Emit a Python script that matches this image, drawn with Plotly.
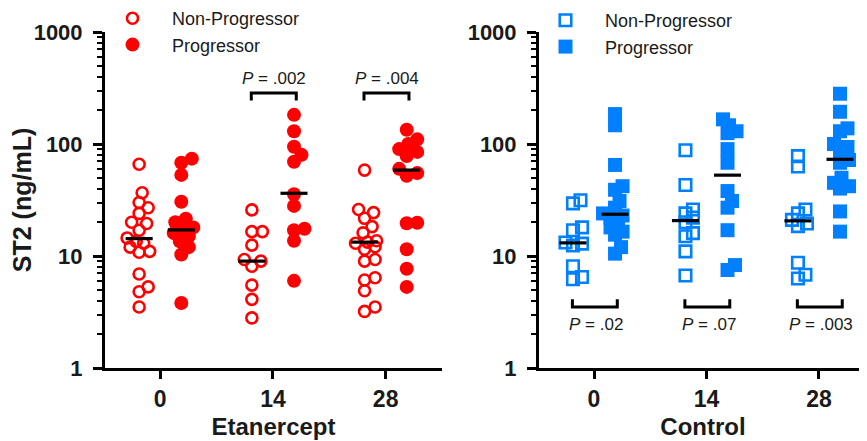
import math
import plotly.graph_objects as go

# ---------------- data (ng/mL) ----------------
days = ["0", "14", "28"]

eta_np_d0 = [66, 36.7, 30, 27, 24, 20, 19.5, 17, 14.5, 13.5, 13, 12, 11, 10.8, 6.9, 5.3, 4.8, 3.5]
eta_np_d14 = [25.8, 16.5, 16.5, 12.5, 9.3, 9.0, 8.1, 5.5, 4.1, 2.8]
eta_np_d28 = [58.5, 26, 24.4, 21.7, 18.3, 16.1, 13.7, 13.3, 13.0, 12.1, 11.5, 9.3, 9.0, 6.4, 6.1, 4.9, 3.5, 3.2]

eta_p_d0 = [74, 68, 53, 30.5, 21.5, 20, 18, 17, 16, 15, 13.5, 12, 10.3, 3.8]
eta_p_d14 = [182, 130, 94.5, 80, 69.5, 35.6, 28, 17.5, 17, 13.7, 6.0]
eta_p_d28 = [134, 110, 100, 90, 85, 78, 60, 55, 52, 19.8, 19.6, 11.5, 7.7, 5.3]

ctl_np_d0 = [31.5, 29.5, 18, 17, 13.2, 12.9, 12.4, 8.1, 6.5, 6.2]
ctl_np_d14 = [88, 43, 26, 24, 22, 20, 16, 15, 11, 6.7]
ctl_np_d28 = [78, 63, 26, 24, 21, 19.5, 18.5, 8.7, 6.8, 6.3]

ctl_p_d0 = [185, 147, 65, 42, 39, 31, 27, 24, 23, 22, 20, 18, 16.5, 15.5, 12, 10.5]
ctl_p_d14 = [166, 147, 130, 125, 90, 68, 38, 31, 27, 17, 8.3, 7.5]
ctl_p_d28 = [281, 194, 138, 130, 100, 94, 88, 72, 68, 50, 45, 42, 40, 25, 16.5]

eta_np_med = [14.3, 9.0, 13.3]
eta_p_med = [17.1, 36.3, 58.5]
ctl_np_med = [13.1, 20.7, 20.6]
ctl_p_med = [23.6, 52.7, 73.0]

eta_pvals = [None, ".002", ".004"]
ctl_pvals = [".02", ".07", ".003"]

# ---------------- style ----------------
RED = "rgb(255,0,0)"
BLUE = "rgb(0,128,255)"
FONT = "Arial, Liberation Sans, sans-serif"
INK = "#1a1a1a"
OFF = 8                      # page body margin of the browser
W, H = 867 - OFF, 441 - OFF  # figure size so that it fills the window
PX_DEC = 112.0     # pixels per decade on y
PX_CAT = 112.5     # pixels per category on x
GOFF = 0.187       # group offset from category centre


def fx(px):
    return (px - OFF) / W


def fy(py):
    return (H - (py - OFF)) / H


def swarm(vals, diam, step=1.5, maxoff=13):
    placed = []
    offs = [0.0] * len(vals)
    order = sorted(range(len(vals)), key=lambda i: vals[i])
    cands = [0.0]
    k = 1
    while k * step <= maxoff:
        cands += [k * step, -k * step]
        k += 1
    for i in order:
        y = math.log10(vals[i]) * PX_DEC
        best, bestd = 0.0, -1
        for c in cands:
            d = min([math.hypot(c - px, y - py) for px, py in placed] or [1e9])
            if d >= diam:
                best = c
                break
            if d > bestd:
                best, bestd = c, d
        placed.append((best, y))
        offs[i] = best / PX_CAT
    return offs


def group_xy(groups, side, diam):
    xs, ys = [], []
    for ci, vals in enumerate(groups):
        for v, o in zip(vals, swarm(vals, diam)):
            xs.append(ci + side * GOFF + o)
            ys.append(v)
    return xs, ys


fig = go.Figure()

panels = [
    dict(xa="x", ya="y", leg="legend", color=RED, sym=("circle-open", "circle"), diam=10,
         np=[eta_np_d0, eta_np_d14, eta_np_d28], p=[eta_p_d0, eta_p_d14, eta_p_d28],
         npm=eta_np_med, pm=eta_p_med),
    dict(xa="x2", ya="y2", leg="legend2", color=BLUE, sym=("square-open", "square"), diam=8,
         np=[ctl_np_d0, ctl_np_d14, ctl_np_d28], p=[ctl_p_d0, ctl_p_d14, ctl_p_d28],
         npm=ctl_np_med, pm=ctl_p_med),
]

for pn in panels:
    open_size = 11 if pn["sym"][0] == "circle-open" else 11.5
    x, y = group_xy(pn["np"], -1, pn["diam"])
    fig.add_trace(go.Scatter(
        x=x, y=y, mode="markers", name="Non-Progressor", xaxis=pn["xa"], yaxis=pn["ya"],
        legend=pn["leg"],
        marker=dict(symbol=pn["sym"][0], size=open_size, color=pn["color"],
                    line=dict(width=2.6, color=pn["color"]))))
    x, y = group_xy(pn["p"], 1, pn["diam"])
    fig.add_trace(go.Scatter(
        x=x, y=y, mode="markers", name="Progressor", xaxis=pn["xa"], yaxis=pn["ya"],
        legend=pn["leg"],
        marker=dict(symbol=pn["sym"][1], size=14, color=pn["color"], line=dict(width=0))))
    # median lines
    mx, my = [], []
    for ci in range(len(days)):
        for side, med in ((-1, pn["npm"][ci]), (1, pn["pm"][ci])):
            c = ci + side * GOFF
            mx += [c - 0.12, c + 0.12, None]
            my += [med, med, None]
    fig.add_trace(go.Scatter(x=mx, y=my, mode="lines", xaxis=pn["xa"], yaxis=pn["ya"],
                             line=dict(color="black", width=3.2), showlegend=False,
                             hoverinfo="skip"))


# significance brackets
def bracket(ci, top, tip):
    a, b = ci - GOFF - 0.005, ci + GOFF + 0.02
    return [a, a, b, b, None], [tip, top, top, tip, None]


bx, by = [], []
for ci, pv in enumerate(eta_pvals):
    if pv:
        xx, yy = bracket(ci, 285, 245)
        bx += xx
        by += yy
        fig.add_annotation(x=ci + 0.01, y=math.log10(385), xref="x", yref="y",
                           text="<i>P</i> = " + pv, showarrow=False,
                           font=dict(family=FONT, size=17, color=INK))
fig.add_trace(go.Scatter(x=bx, y=by, mode="lines", xaxis="x", yaxis="y",
                         line=dict(color="black", width=3), showlegend=False, hoverinfo="skip"))

bx, by = [], []
for ci, pv in enumerate(ctl_pvals):
    if pv:
        xx, yy = bracket(ci, 3.5, 4.1)
        bx += xx
        by += yy
        fig.add_annotation(x=ci + 0.02, y=math.log10(2.45), xref="x2", yref="y2",
                           text="<i>P</i> = " + pv, showarrow=False,
                           font=dict(family=FONT, size=17, color=INK))
fig.add_trace(go.Scatter(x=bx, y=by, mode="lines", xaxis="x2", yaxis="y2",
                         line=dict(color="black", width=3), showlegend=False, hoverinfo="skip"))

# ---------------- axes ----------------
minor_vals = [m * 10 ** d for d in range(3) for m in range(2, 10)]
ydom = [fy(368), fy(32)]

yax = dict(type="log", range=[0, 3], domain=ydom, showline=True, linewidth=3, linecolor="black",
           ticks="outside", ticklen=9, tickwidth=3, tickcolor="black",
           tickvals=[1, 10, 100, 1000], ticktext=["1", "10", "100", "1000"],
           tickfont=dict(family=FONT, size=22, color=INK, weight="bold"),
           ticklabelstandoff=6, automargin=False,
           minor=dict(tickvals=minor_vals, ticks="outside", ticklen=5, tickwidth=2,
                      tickcolor="black", showgrid=False),
           showgrid=False, zeroline=False, fixedrange=True)

xax = dict(tickvals=[0, 1, 2], ticktext=days, showline=True, linewidth=3, linecolor="black",
           ticks="outside", ticklen=8, tickwidth=3, tickcolor="black",
           tickfont=dict(family=FONT, size=23, color=INK, weight="bold"),
           ticklabelstandoff=0, automargin=False, showgrid=False, zeroline=False)

fig.update_layout(
    template="none",
    width=W, height=H, margin=dict(l=0, r=0, t=0, b=0, autoexpand=False),
    plot_bgcolor="white", paper_bgcolor="white",
    xaxis=dict(xax, domain=[fx(105), fx(442)], range=[-0.49, 2.5], anchor="y",
               title=dict(text="<b>Etanercept</b>", standoff=8,
                          font=dict(family=FONT, size=24, color=INK))),
    yaxis=dict(yax, anchor="x",
               title=dict(text="<b>ST2 (ng/mL)</b>", standoff=0,
                          font=dict(family=FONT, size=25, color=INK))),
    xaxis2=dict(xax, domain=[fx(539), 1.0], range=[-0.489, 2.427], anchor="y2",
                title=dict(text="<b>Control</b>", standoff=8,
                           font=dict(family=FONT, size=24, color=INK))),
    yaxis2=dict(yax, anchor="x2"),
    legend=dict(x=fx(93), y=fy(0), xanchor="left", yanchor="top", itemwidth=69,
                bgcolor="rgba(0,0,0,0)", font=dict(family=FONT, size=18, color=INK),
                tracegroupgap=0, borderwidth=0),
    legend2=dict(x=fx(526), y=fy(2), xanchor="left", yanchor="top", itemwidth=69,
                 bgcolor="rgba(0,0,0,0)", font=dict(family=FONT, size=18, color=INK),
                 tracegroupgap=0, borderwidth=0),
    showlegend=True,
)

fig.write_html("out.html")
